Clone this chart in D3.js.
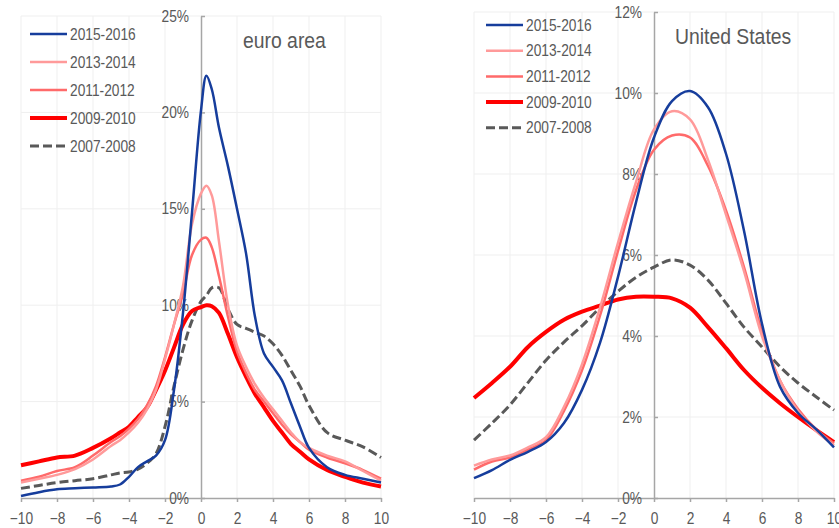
<!DOCTYPE html>
<html>
<head>
<meta charset="utf-8">
<script src="https://cdn.jsdelivr.net/npm/d3@7"></script>
<style>
  body { margin: 0; background: #fff; }
  svg { display: block; font-family: "Liberation Sans", Arial, sans-serif; }
  .grid line { stroke: #efefef; stroke-width: 1; }
  .axis path, .axis line { stroke: #a6a6a6; stroke-width: 1.5; }
  .axis text { fill: #595959; font-size: 16px; }
  .lbl { fill: #595959; }
</style>
</head>
<body>
<div id="chart"></div>
<script>
// series names (legend order)
var seriesNames = ['2015-2016', '2013-2014', '2011-2012', '2009-2010', '2007-2008'];

// euro area, x grid (percentage points) and densities (%)
var euroX = [-10, -9, -8, -7, -6, -5, -4.5, -4, -3.5, -3, -2.5, -2, -1.5, -1, -0.5, 0, 0.3, 0.6, 1, 1.5, 2, 2.5, 3, 3.5, 4, 4.5, 5, 5.5, 6, 7, 8, 9, 10];
var euro2015 = [0.1, 0.3, 0.45, 0.5, 0.55, 0.6, 0.7, 1.1, 1.6, 1.9, 2.2, 3.0, 5.6, 9.6, 14.8, 20.1, 21.9, 21.2, 19.2, 17.2, 15.0, 12.7, 9.4, 7.5, 6.8, 6.1, 4.9, 3.7, 2.6, 1.6, 1.2, 1.0, 0.8];
var euro2013 = [0.8, 1.0, 1.2, 1.5, 2.0, 2.7, 3.0, 3.4, 3.9, 4.6, 5.6, 7.2, 9.0, 11.0, 14.2, 15.8, 16.2, 15.7, 13.3, 10.0, 7.9, 6.8, 5.9, 5.2, 4.6, 4.0, 3.4, 2.9, 2.6, 2.2, 1.9, 1.4, 0.9];
var euro2011 = [0.9, 1.1, 1.4, 1.6, 2.2, 2.9, 3.2, 3.6, 4.1, 4.8, 5.8, 7.3, 9.0, 10.6, 12.6, 13.4, 13.5, 13.0, 11.5, 9.4, 7.6, 6.5, 5.6, 5.0, 4.4, 3.8, 3.3, 2.9, 2.5, 2.1, 1.8, 1.45, 1.0];
var euro2009 = [1.7, 1.9, 2.1, 2.2, 2.6, 3.1, 3.4, 3.7, 4.2, 4.7, 5.6, 6.6, 7.8, 9.0, 9.7, 9.9, 10.0, 9.95, 9.6, 8.5, 7.3, 6.3, 5.4, 4.7, 4.0, 3.4, 2.8, 2.4, 2.0, 1.45, 1.1, 0.8, 0.6];
var euro2007 = [0.5, 0.65, 0.8, 0.9, 1.0, 1.2, 1.3, 1.35, 1.5, 1.8, 2.3, 3.7, 5.8, 7.7, 9.2, 10.2, 10.5, 10.9, 10.9, 9.8, 9.0, 8.8, 8.6, 8.4, 8.0, 7.4, 6.6, 5.8, 4.8, 3.4, 3.0, 2.65, 2.1];

// United States
var usX = [-10, -9, -8, -7, -6, -5, -4, -3, -2, -1, 0, 1, 2, 3, 4, 5, 6, 7, 8, 9, 10];
var us2015 = [0.49, 0.69, 0.94, 1.14, 1.38, 1.85, 2.67, 3.83, 5.46, 7.3, 8.9, 9.8, 10.05, 9.65, 8.5, 6.6, 4.3, 2.75, 2.1, 1.7, 1.25];
var us2013 = [0.8, 0.95, 1.05, 1.25, 1.5, 2.25, 3.3, 4.7, 6.3, 7.8, 9.1, 9.55, 9.35, 8.35, 7.0, 5.6, 4.0, 2.9, 2.15, 1.65, 1.3];
var us2011 = [0.7, 0.9, 1.0, 1.2, 1.43, 2.15, 3.15, 4.5, 6.1, 7.6, 8.6, 8.95, 8.9, 8.2, 7.1, 5.7, 4.1, 2.9, 2.2, 1.7, 1.35];
var us2009 = [2.47, 2.84, 3.24, 3.73, 4.1, 4.4, 4.6, 4.75, 4.9, 4.97, 4.97, 4.93, 4.7, 4.22, 3.7, 3.16, 2.72, 2.34, 2.0, 1.68, 1.38];
var us2007 = [1.43, 1.85, 2.3, 2.85, 3.4, 3.85, 4.25, 4.7, 5.1, 5.45, 5.7, 5.88, 5.75, 5.38, 4.81, 4.22, 3.73, 3.24, 2.84, 2.5, 2.17];

var xTicks = [-10, -8, -6, -4, -2, 0, 2, 4, 6, 8, 10];
var euroYTicks = [0, 5, 10, 15, 20, 25];
var usYTicks = [0, 2, 4, 6, 8, 10, 12];

// line styles, same order as seriesNames
var styles = [
  {color: '#163d9c', width: 2.5, dash: null},
  {color: '#ff9a9a', width: 2.5, dash: null},
  {color: '#ff6a6a', width: 2.5, dash: null},
  {color: '#ff0000', width: 4, dash: null},
  {color: '#595959', width: 3, dash: '9,4'}
];

var SX = 0.86; // glyphs in the reference are horizontally squeezed

var svg = d3.select('#chart').append('svg')
  .attr('width', 839)
  .attr('height', 528);

function drawPanel(opt) {
  var x = d3.scaleLinear().domain([-10, 10]).range(opt.xRange);
  var y = d3.scaleLinear().domain([0, opt.yMax]).range([498, opt.yTop]);
  var g = svg.append('g');

  // gridlines
  var grid = g.append('g').attr('class', 'grid');
  grid.selectAll('.v').data(xTicks.filter(function(d) { return d !== 0; }))
    .enter().append('line')
    .attr('x1', function(d) { return x(d); }).attr('x2', function(d) { return x(d); })
    .attr('y1', y(0)).attr('y2', y(opt.yMax));
  grid.selectAll('.h').data(opt.yTicks.filter(function(d) { return d !== 0; }))
    .enter().append('line')
    .attr('x1', x(-10)).attr('x2', x(10))
    .attr('y1', function(d) { return y(d); }).attr('y2', function(d) { return y(d); });

  // x axis
  var xa = g.append('g')
    .attr('class', 'axis')
    .attr('transform', 'translate(0,' + y(0) + ')')
    .call(d3.axisBottom(x).tickValues(xTicks).tickSizeInner(4).tickSizeOuter(0).tickPadding(11));
  xa.selectAll('text').attr('transform', 'scale(' + SX + ',1)');

  // y axis sits on x = 0, ticks point inwards, labels on the left
  var ya = g.append('g')
    .attr('class', 'axis')
    .attr('transform', 'translate(' + x(0) + ',0)')
    .call(d3.axisLeft(y).tickValues(opt.yTicks).tickSizeInner(-4).tickSizeOuter(0)
      .tickFormat(function(d) { return d + '%'; }));
  ya.selectAll('text')
    .attr('x', -12 / SX)
    .attr('transform', 'scale(' + SX + ',1)');

  // curves
  var line = d3.line()
    .x(function(d) { return x(d[0]); })
    .y(function(d) { return y(d[1]); })
    .curve(d3.curveCatmullRom.alpha(0.5));

  var order = [4, 3, 2, 1, 0];
  order.forEach(function(i) {
    var pts = opt.xs.map(function(v, j) { return [v, opt.series[i][j]]; });
    g.append('path')
      .datum(pts)
      .attr('fill', 'none')
      .attr('stroke', styles[i].color)
      .attr('stroke-width', styles[i].width)
      .attr('stroke-dasharray', styles[i].dash)
      .attr('stroke-linejoin', 'round')
      .attr('d', line);
  });

  // title
  g.append('text')
    .attr('class', 'lbl')
    .attr('transform', 'translate(' + opt.titleX + ',' + opt.titleY + ') scale(0.88,1)')
    .style('font-size', '22px')
    .text(opt.title);

  // legend
  var lg = g.append('g');
  seriesNames.forEach(function(name, i) {
    var yy = opt.legY + i * opt.legStep;
    lg.append('line')
      .attr('x1', opt.legX).attr('x2', opt.legX + 37)
      .attr('y1', yy).attr('y2', yy)
      .attr('stroke', styles[i].color)
      .attr('stroke-width', styles[i].width)
      .attr('stroke-dasharray', styles[i].dash);
    lg.append('text')
      .attr('class', 'lbl')
      .attr('transform', 'translate(' + (opt.legX + 40) + ',' + yy + ') scale(' + SX + ',1)')
      .attr('dy', '0.35em')
      .style('font-size', '16px')
      .text(name);
  });
}

drawPanel({
  xRange: [21, 381], yMax: 25, yTop: 16, yTicks: euroYTicks,
  xs: euroX, series: [euro2015, euro2013, euro2011, euro2009, euro2007],
  title: 'euro area', titleX: 243, titleY: 48,
  legX: 30, legY: 34, legStep: 28
});

drawPanel({
  xRange: [474, 834], yMax: 12, yTop: 12, yTicks: usYTicks,
  xs: usX, series: [us2015, us2013, us2011, us2009, us2007],
  title: 'United States', titleX: 675, titleY: 44,
  legX: 486, legY: 25, legStep: 25.7
});
</script>
</body>
</html>
